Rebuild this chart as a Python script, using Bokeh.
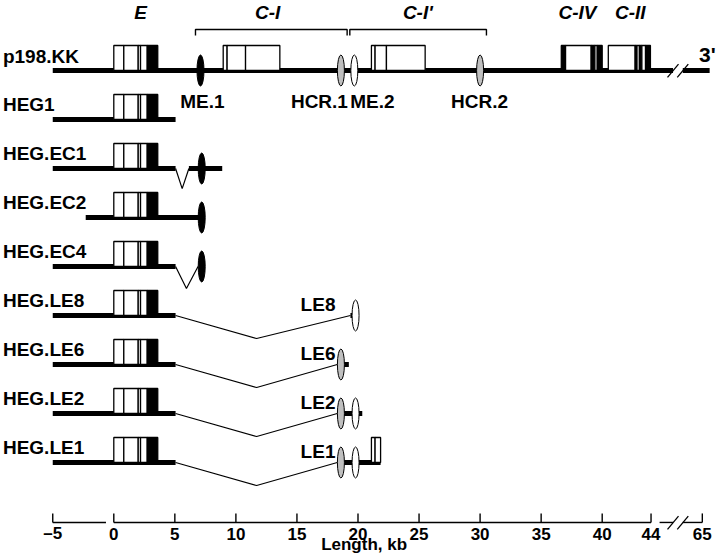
from bokeh.plotting import figure
from bokeh.models import Range1d
from bokeh.core.properties import value
from bokeh.embed import file_html
from bokeh.resources import INLINE

# ---------------- data ----------------
tracks = ["p198.KK", "HEG1", "HEG.EC1", "HEG.EC2", "HEG.EC4",
          "HEG.LE8", "HEG.LE6", "HEG.LE2", "HEG.LE1"]

# E-domain exon blocks (kb) -- shared by every construct
e_start = [0.0, 0.82, 2.0, 2.19, 2.74]
e_end = [0.82, 2.0, 2.19, 2.74, 3.6]
e_fill = ["white", "white", "white", "white", "black"]

# downstream exon blocks on p198.KK (kb)
ci_start = [8.96, 9.28, 10.79]
ci_end = [9.28, 10.79, 13.6]
cip_start = [21.1, 21.4, 22.33]
cip_end = [21.4, 22.33, 25.5]
civ_start = [36.65, 37.0, 39.1, 39.4, 39.6]
civ_end = [37.0, 39.1, 39.4, 39.6, 40.0]
civ_fill = ["black", "white", "black", "white", "black"]
cii_start = [40.5, 42.7, 42.85, 43.05, 43.25, 43.55]
cii_end = [42.7, 42.85, 43.05, 43.25, 43.55, 43.95]
cii_fill = ["white", "black", "white", "black", "white", "black"]

# LE1 carries the first C-I' exon pieces
le1_start = [21.1, 21.4]
le1_end = [21.4, 21.85]

# thick DNA segments: track index, start kb, end kb
dna_track = [0, 0, 1, 2, 2, 3, 4, 5, 5, 6, 6, 7, 7, 8, 8]
dna_start = [-5, 57, -5, -5, 6.15, -2.3, -5, -5, 19.38, -5, 18.3, -5, 18.3, -5, 18.3]
dna_end = [53, 68, 5.06, 5.06, 8.88, 7.1, 5.06, 5.06, 19.8, 5.06, 19.25, 5.06, 20.35, 5.06, 21.85]

# splice connectors (thin V lines)
splice_track = [2, 4, 5, 6, 7, 8]
splice_from = [5.06, 5.06, 5.06, 5.06, 5.06, 5.06]
splice_via = [5.6, 5.95, 11.7, 11.7, 11.7, 11.7]
splice_to = [6.15, 6.9, 19.38, 18.3, 18.3, 18.3]
splice_depth = [0.41, 0.45, 0.47, 0.47, 0.47, 0.47]

# elements (ellipses)
ell_track = [0, 0, 0, 0, 2, 3, 4, 5, 6, 7, 7, 8, 8]
ell_x = [7.1, 18.6, 19.7, 30.0, 7.2, 7.2, 7.2, 19.8, 18.6, 18.6, 19.8, 18.6, 19.8]
ell_kind = ["ME", "HCR", "ME2", "HCR", "ME", "ME", "ME", "ME2", "HCR", "HCR", "ME2", "HCR", "ME2"]

# element names under p198.KK
elem_names = ["ME.1", "HCR.1", "ME.2", "HCR.2"]
elem_x = [7.26, 16.84, 21.18, 29.95]

# domain labels and brackets
domain_names = ["E", "C-I", "C-I'", "C-IV", "C-II"]
domain_x = [2.2, 12.6, 24.9, 37.97, 42.3]
bracket_start = [6.69, 19.33]
bracket_end = [19.11, 30.52]

# LE labels
le_names = ["LE8", "LE6", "LE2", "LE1"]
le_track = [5, 6, 7, 8]
le_x = 15.3

# axis
tick_values = [-5, 0, 5, 10, 15, 20, 25, 30, 35, 40, 44, 65]
tick_labels = ["\u20135", "0", "5", "10", "15", "20", "25", "30", "35", "40", "44", "65"]
axis_seg_start = [-5, 0, 47.5, 57]
axis_seg_end = [-0.64, 44, 53, 65]
break_at = [53, 57]
three_prime_end = 68

# ---------------- helpers ----------------
BREAK = 44.0
COMPRESS = 0.2


def disp(x):
    return x if x <= BREAK else BREAK + (x - BREAK) * COMPRESS


COLORS = {"ME": "black", "HCR": "#bfbfbf", "ME2": "white"}
FONT = value("Liberation Sans")
BOX_H = 0.51
AXIS_Y = 9.224

p = figure(width=720, height=554,
           x_range=Range1d(-9.279, 49.689), y_range=Range1d(9.878, -1.4286),
           x_axis_type=None, y_axis_type=None,
           output_backend="svg", toolbar_location=None, min_border=0)
p.outline_line_color = None
p.background_fill_color = "white"

# thick DNA lines
p.segment(x0=[disp(s) for s in dna_start], y0=dna_track,
          x1=[disp(e) for e in dna_end], y1=dna_track,
          line_width=5, line_color="black", line_cap="butt")

# splice connectors
xs, ys = [], []
for t, a, v, b, d in zip(splice_track, splice_from, splice_via, splice_to, splice_depth):
    xs.append([a, v, b])
    ys.append([t, t + d, t])
p.multi_line(xs, ys, line_width=1.2, line_color="black")

# break slashes on p198.KK line and the axis
sx0, sy0, sx1, sy1 = [], [], [], []
for yy in [0, AXIS_Y]:
    for b in break_at:
        xd = disp(b)
        sx0.append(xd - 0.45); sy0.append(yy + 0.14)
        sx1.append(xd + 0.45); sy1.append(yy - 0.13)
p.segment(sx0, sy0, sx1, sy1, line_width=1.3, line_color="black")

# exon boxes
L, R, T, B, F = [], [], [], [], []


def add(starts, ends, fills, t):
    for s, e, f in zip(starts, ends, fills):
        L.append(s); R.append(e); T.append(t - BOX_H); B.append(t); F.append(f)


for t in range(len(tracks)):
    add(e_start, e_end, e_fill, t)
add(ci_start, ci_end, ["white"] * 3, 0)
add(cip_start, cip_end, ["white"] * 3, 0)
add(civ_start, civ_end, civ_fill, 0)
add(cii_start, cii_end, cii_fill, 0)
add(le1_start, le1_end, ["white"] * 2, 8)
p.quad(left=L, right=R, top=T, bottom=B, fill_color=F,
       line_color="black", line_width=1.3)

# ellipses
p.ellipse(x=ell_x, y=ell_track, width=7, height=31,
          width_units="screen", height_units="screen",
          fill_color=[COLORS[k] for k in ell_kind], line_color="black", line_width=1)

# brackets
bx, by = [], []
for s, e in zip(bracket_start, bracket_end):
    bx.append([s, s, e, e])
    by.append([-0.714, -0.837, -0.837, -0.714])
p.multi_line(bx, by, line_width=1.4, line_color="black")


def label(x, y, text, size, style="bold", align="center"):
    p.text(x=x, y=y, text=text, text_font=FONT, text_font_style=style,
           text_font_size=size, text_align=align, text_baseline="middle")


# domain labels
label(domain_x, [-1.19] * len(domain_x), domain_names, "19px", "bold italic")
# row labels
label([-9.08] * len(tracks), [t - (0.29 if t == 0 else 0.315) for t in range(len(tracks))],
      tracks, "19px", align="left")
# element names
label(elem_x, [0.633] * len(elem_x), elem_names, "19px")
# LE labels
label([le_x] * len(le_names), [t - 0.23 for t in le_track], le_names, "19px", align="left")
# 3' label
label([disp(three_prime_end) + 0.5], [-0.32], ["3'"], "21px", align="right")

# scale bar axis
p.segment(x0=[disp(s) for s in axis_seg_start], y0=[AXIS_Y] * len(axis_seg_start),
          x1=[disp(e) for e in axis_seg_end], y1=[AXIS_Y] * len(axis_seg_end),
          line_width=1.4, line_color="black")
tx = [disp(v) for v in tick_values]
p.segment(x0=tx, y0=[AXIS_Y] * len(tx), x1=tx, y1=[AXIS_Y - 0.184] * len(tx),
          line_width=1.4, line_color="black")
label(tx, [9.45] * len(tx), tick_labels, "17px")
label([20.5], [9.665], ["Length, kb"], "17px")

open("out.html", "w").write(file_html(p, INLINE))
